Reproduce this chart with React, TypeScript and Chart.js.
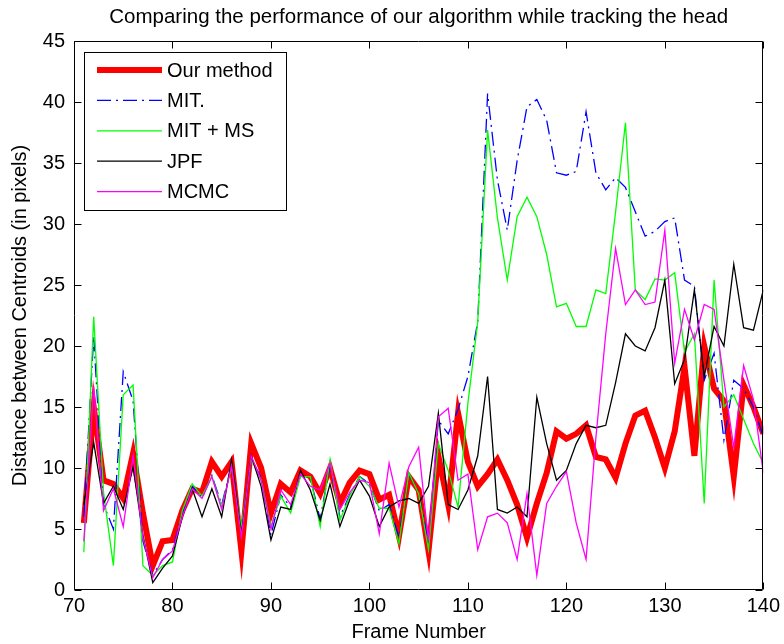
import React, { useEffect, useRef } from "react";
import { Chart, registerables } from "chart.js";

Chart.register(...registerables);

const chartTitle = "Comparing the performance of our algorithm while tracking the head";
const xTitle = "Frame Number";
const yTitle = "Distance between Centroids (in pixels)";

const frames = [
  71, 72, 73, 74, 75, 76, 77, 78, 79, 80,
  81, 82, 83, 84, 85, 86, 87, 88, 89, 90,
  91, 92, 93, 94, 95, 96, 97, 98, 99, 100,
  101, 102, 103, 104, 105, 106, 107, 108, 109, 110,
  111, 112, 113, 114, 115, 116, 117, 118, 119, 120,
  121, 122, 123, 124, 125, 126, 127, 128, 129, 130,
  131, 132, 133, 134, 135, 136, 137, 138, 139, 140,
];

const ourMethod = [
  5.5, 15, 9, 8.7, 7.5, 11.2, 6.3, 2, 4, 4.1,
  6.5, 8.3, 8, 10.5, 9.3, 10.5, 3.2, 12, 10, 6.3,
  8.7, 8, 9.8, 9.3, 7.9, 10, 7.1, 8.8, 9.8, 9.5,
  7.4, 7.8, 4.4, 9.3, 8.2, 3.2, 11, 7, 14.5, 10.5,
  8.5, 9.5, 10.7, 9, 7, 4.3, 7.1, 9.6, 13, 12.4,
  12.8, 13.5, 10.9, 10.7, 9.2, 12, 14.3, 14.7, 12.5, 10,
  13, 18.3, 11, 20, 16.5, 15.5, 9.3, 16.8, 15, 12.8,
];

const mit = [
  6, 20.8, 7, 5, 17.9, 15.5, 4, 1.2, 2.5, 3.3,
  6.3, 8.5, 7.6, 9.4, 7, 10.2, 5, 10.8, 9.2, 4.5,
  7.8, 6.8, 9.4, 9.2, 5.8, 10.3, 6, 7.8, 9.3, 8.7,
  6.5, 7, 4.3, 9.5, 8, 3.8, 13.9, 12.8, 14.8, 17.5,
  22, 40.7, 33.6, 29.5, 35.2, 39.6, 40.2, 38.5, 34.2, 34,
  34.3, 39.2, 34.2, 32.8, 33.8, 33, 31, 29, 29.4, 30.2,
  30.5, 25.4, 24.9, 17.2, 19.4, 12.3, 17.2, 16.5, 15, 12.6,
];

const mitMs = [
  3.1, 22.4, 8, 2, 16, 16.8, 2, 1.2, 2, 2.3,
  6.5, 8.7, 7.7, 9.3, 6.8, 10.1, 5.2, 10.7, 9, 5.2,
  7.7, 6.3, 9.3, 9.3, 5.2, 10.7, 5.7, 7.7, 9.3, 8.5,
  6.7, 6.7, 3.8, 9.6, 7.9, 3.3, 12, 9.8, 6.8, 15.3,
  22, 37.7, 30.5, 25.4, 30.6, 32.2, 30.6, 27.5, 23.2, 23.5,
  21.6, 21.6, 24.6, 24.3, 31, 38.3, 24.6, 23.8, 25.5, 25.4,
  26, 19.5, 21, 7.1, 25.4, 15, 16, 14, 12, 10.4,
];

const jpf = [
  7, 12.1, 7.1, 8.5, 6.6, 10.1, 4.5, 0.6, 1.8, 2.8,
  6, 8.3, 6, 8.3, 6, 10.7, 4.6, 11, 8.5, 4.1,
  6.8, 6.6, 9.8, 8.2, 5.7, 8.7, 5.2, 7.4, 9, 7.7,
  5.2, 6.8, 7.3, 7.5, 7.1, 8.5, 14.5, 7, 6.6, 8.2,
  11, 17.5, 6.6, 6.3, 6.8, 6, 15.8, 12, 9, 9.8,
  12, 13.5, 13.3, 13.5, 17, 21, 20, 19.6, 21.5, 25.4,
  16.9, 18.9, 24.6, 17.5, 21.6, 20, 26.7, 21.5, 21.3, 24.6,
];

const mcmc = [
  4, 16.7, 6.5, 8.3, 5.2, 11, 4.3, 1, 2.5, 3.2,
  6, 8.3, 7.5, 9.3, 6.6, 10.2, 4.4, 11, 9, 5,
  8.2, 7, 9.5, 8.5, 8.2, 10.4, 6.6, 8, 9, 8.8,
  4.6, 10.4, 6.8, 10.1, 11.7, 4, 14.2, 14.9, 9, 9.5,
  3.3, 6, 6.3, 5.5, 2.5, 7.9, 1.2, 7.1, 8.5, 9.7,
  5.5, 2.5, 12.5, 21, 28, 23.4, 24.6, 23.4, 23.6, 29.5,
  18.6, 23, 20.5, 23.4, 23, 17.2, 11.7, 18.4, 15.6, 9.6,
];

const seriesLabels = ["Our method", "MIT.", "MIT + MS", "JPF", "MCMC"];
const seriesValues = [ourMethod, mit, mitMs, jpf, mcmc];
const seriesColors = ["#ff0000", "#0000ff", "#00ff00", "#000000", "#ff00ff"];
const seriesWidths = [6, 1.3, 1.3, 1.3, 1.3];
const seriesDashes: number[][] = [[], [14, 5, 2, 5], [], [], []];

const X_MIN = 70, X_MAX = 140, X_STEP = 10;
const Y_MIN = 0, Y_MAX = 45, Y_STEP = 5;

const FONT = "'Liberation Sans', Arial, Helvetica, sans-serif";

const boxTicksPlugin = {
  id: "boxTicks",
  afterDatasetsDraw(chart: any) {
    const { ctx, chartArea: a, scales } = chart;
    const x = scales.x, y = scales.y;
    const L = 7;
    ctx.save();
    ctx.strokeStyle = "#000";
    ctx.lineWidth = 1;
    const l = Math.round(a.left) + 0.5, r = Math.round(a.right) - 0.5;
    const t = Math.round(a.top) + 0.5, b = Math.round(a.bottom) - 0.5;
    ctx.beginPath();
    ctx.rect(l, t, r - l, b - t);
    ctx.stroke();
    ctx.beginPath();
    for (const tk of x.ticks) {
      const px = Math.round(x.getPixelForValue(tk.value)) + 0.5;
      ctx.moveTo(px, b); ctx.lineTo(px, b - L);
      ctx.moveTo(px, t); ctx.lineTo(px, t + L);
    }
    for (const tk of y.ticks) {
      const py = Math.round(y.getPixelForValue(tk.value)) + 0.5;
      ctx.moveTo(l, py); ctx.lineTo(l + L, py);
      ctx.moveTo(r, py); ctx.lineTo(r - L, py);
    }
    ctx.stroke();
    ctx.restore();
  },
};

const legendPlugin = {
  id: "matlabLegend",
  afterDatasetsDraw(chart: any) {
    const { ctx } = chart;
    const bx = 84.5, by = 52.5, bw = 202, bh = 158;
    ctx.save();
    ctx.fillStyle = "#fff";
    ctx.fillRect(bx, by, bw, bh);
    ctx.strokeStyle = "#000";
    ctx.lineWidth = 1;
    ctx.strokeRect(bx, by, bw, bh);
    ctx.font = `20px ${FONT}`;
    ctx.textBaseline = "middle";
    ctx.textAlign = "left";
    seriesLabels.forEach((label, i) => {
      const cy = 70 + i * 30.4;
      ctx.beginPath();
      ctx.strokeStyle = seriesColors[i];
      ctx.lineWidth = seriesWidths[i];
      ctx.setLineDash(seriesDashes[i]);
      ctx.moveTo(97, cy);
      ctx.lineTo(162, cy);
      ctx.stroke();
      ctx.setLineDash([]);
      ctx.fillStyle = "#000";
      ctx.fillText(label, 167, cy + 1);
    });
    ctx.restore();
  },
};

export default function App() {
  const canvasRef = useRef<HTMLCanvasElement | null>(null);

  useEffect(() => {
    if (!canvasRef.current) return;
    const datasets = seriesLabels.map((label, i) => ({
      label,
      data: frames.map((f, k) => ({ x: f, y: seriesValues[i][k] })),
      borderColor: seriesColors[i],
      backgroundColor: seriesColors[i],
      borderWidth: seriesWidths[i],
      borderDash: seriesDashes[i],
      pointRadius: 0,
      tension: 0,
      fill: false,
      order: 5 - i,
      clip: 0,
    }));

    const chart = new Chart(canvasRef.current, {
      type: "line",
      data: { datasets },
      options: {
        animation: false,
        responsive: false,
        devicePixelRatio: 1,
        layout: { padding: { left: 0, right: 16, top: 0, bottom: 0 }, autoPadding: false },
        plugins: {
          legend: { display: false },
          tooltip: { enabled: false },
          title: {
            display: true,
            fullSize: false,
            text: chartTitle,
            color: "#000",
            font: { family: FONT, size: 20.5, weight: "normal" },
            padding: { top: 5, bottom: 11.4 },
          },
        },
        scales: {
          x: {
            type: "linear",
            min: X_MIN,
            max: X_MAX,
            grid: { display: false, drawTicks: false },
            border: { display: false },
            ticks: {
              stepSize: X_STEP,
              color: "#000",
              padding: 4,
              maxRotation: 0,
              font: { family: FONT, size: 20 },
            },
            title: {
              display: true,
              text: xTitle,
              color: "#000",
              font: { family: FONT, size: 20 },
              padding: { top: 0, bottom: 0 },
            },
            afterFit: (s: any) => { s.height = 54; },
          },
          y: {
            type: "linear",
            min: Y_MIN,
            max: Y_MAX,
            grid: { display: false, drawTicks: false },
            border: { display: false },
            ticks: {
              stepSize: Y_STEP,
              color: "#000",
              padding: 9,
              font: { family: FONT, size: 20 },
            },
            title: {
              display: true,
              text: yTitle,
              color: "#000",
              font: { family: FONT, size: 20 },
              padding: { top: 8, bottom: 0 },
            },
            afterFit: (s: any) => { s.width = 74; },
          },
        },
      },
      plugins: [boxTicksPlugin, legendPlugin],
    } as any);

    return () => chart.destroy();
  }, []);

  return (
    <div style={{ position: "fixed", left: 0, top: 0, width: 784, height: 644, background: "#fff" }}>
      <canvas ref={canvasRef} width={784} height={644} />
    </div>
  );
}
